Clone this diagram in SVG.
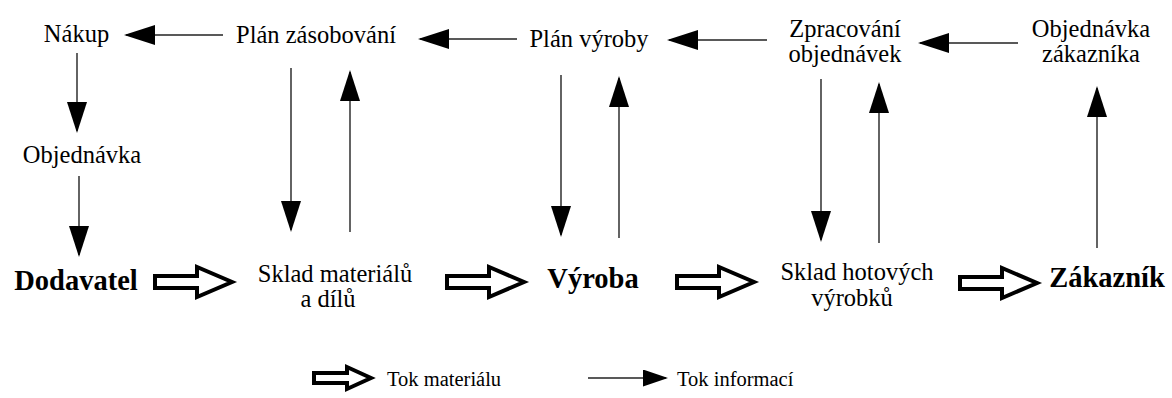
<svg xmlns="http://www.w3.org/2000/svg" width="1172" height="398" viewBox="0 0 1172 398">
  <defs>
    <marker id="head" markerUnits="userSpaceOnUse" markerWidth="31" markerHeight="20" refX="29" refY="10" orient="auto">
      <path d="M0,0 L31,10 L0,20 Z" fill="#000"/>
    </marker>
    <marker id="headSmall" markerUnits="userSpaceOnUse" markerWidth="25" markerHeight="17" refX="23" refY="8.5" orient="auto">
      <path d="M0,0 L25,8.5 L0,17 Z" fill="#000"/>
    </marker>
  </defs>

  <!-- information flow: thin lines with solid heads -->
  <g id="connectors" stroke="#222" stroke-width="1.4" fill="none" marker-end="url(#head)">
    <line x1="223" y1="35" x2="126" y2="35"/>
    <line x1="517" y1="39" x2="420" y2="39"/>
    <line x1="767" y1="40" x2="669" y2="40"/>
    <line x1="1018" y1="43" x2="920" y2="43"/>
    <line x1="77" y1="53" x2="77" y2="131"/>
    <line x1="79" y1="176" x2="79" y2="255"/>
    <line x1="291" y1="68" x2="291" y2="230"/>
    <line x1="350" y1="232" x2="350" y2="72"/>
    <line x1="561" y1="75" x2="561" y2="235"/>
    <line x1="619" y1="238" x2="619" y2="78"/>
    <line x1="821" y1="79" x2="821" y2="240"/>
    <line x1="879" y1="243" x2="879" y2="84"/>
    <line x1="1097" y1="248" x2="1097" y2="88"/>
  </g>

  <!-- material flow: hollow block arrows -->
  <g id="material-flow" fill="#fff" stroke="#000" stroke-width="4">
    <path d="M155,276 H197 V267 L232,282 L197,297 V288 H155 Z"/>
    <path d="M447,276 H489 V267 L524,282 L489,297 V288 H447 Z"/>
    <path d="M677,276 H719 V267 L754,282 L719,297 V288 H677 Z"/>
    <path d="M960,277 H1002 V268 L1037,283 L1002,298 V289 H960 Z"/>
  </g>

  <g id="nakup"><text font-family="Liberation Serif" font-size="24.5" text-anchor="middle" x="76.5" y="42">Nákup</text></g>
  <g id="plan-zasobovani"><text font-family="Liberation Serif" font-size="24.5" text-anchor="middle" x="316" y="43">Plán zásobování</text></g>
  <g id="plan-vyroby"><text font-family="Liberation Serif" font-size="24.5" text-anchor="middle" x="589" y="47">Plán výroby</text></g>
  <g id="zpracovani-objednavek">
    <text font-family="Liberation Serif" font-size="24.5" text-anchor="middle" x="845" y="37">Zpracování</text>
    <text font-family="Liberation Serif" font-size="24.5" text-anchor="middle" x="845" y="62">objednávek</text>
  </g>
  <g id="objednavka-zakaznika">
    <text font-family="Liberation Serif" font-size="24.5" text-anchor="middle" x="1091" y="37">Objednávka</text>
    <text font-family="Liberation Serif" font-size="24.5" text-anchor="middle" x="1091" y="62">zákazníka</text>
  </g>
  <g id="objednavka"><text font-family="Liberation Serif" font-size="24.5" text-anchor="middle" x="82" y="163">Objednávka</text></g>
  <g id="sklad-materialu">
    <text font-family="Liberation Serif" font-size="24.5" text-anchor="middle" x="335" y="282">Sklad materiálů</text>
    <text font-family="Liberation Serif" font-size="24.5" text-anchor="middle" x="328" y="307">a dílů</text>
  </g>
  <g id="sklad-hotovych">
    <text font-family="Liberation Serif" font-size="24.5" text-anchor="middle" x="857" y="280">Sklad hotových</text>
    <text font-family="Liberation Serif" font-size="24.5" text-anchor="middle" x="852" y="306">výrobků</text>
  </g>
  <g id="dodavatel"><text font-family="Liberation Serif" font-size="28.5" font-weight="bold" text-anchor="middle" x="76" y="290">Dodavatel</text></g>
  <g id="vyroba"><text font-family="Liberation Serif" font-size="28.5" font-weight="bold" text-anchor="middle" x="593" y="288">Výroba</text></g>
  <g id="zakaznik"><text font-family="Liberation Serif" font-size="28.5" font-weight="bold" text-anchor="middle" x="1107" y="287">Zákazník</text></g>

  <!-- legend -->
  <g id="legend">
    <path d="M314,373 H347 V367 L371,378 L347,389 V383 H314 Z" fill="#fff" stroke="#000" stroke-width="4"/>
    <text font-family="Liberation Serif" font-size="20.5" x="387" y="386">Tok materiálu</text>
    <line x1="588" y1="378" x2="666" y2="378" stroke="#222" stroke-width="1.4" marker-end="url(#headSmall)"/>
    <text font-family="Liberation Serif" font-size="20.5" x="677" y="386">Tok informací</text>
  </g>
</svg>
